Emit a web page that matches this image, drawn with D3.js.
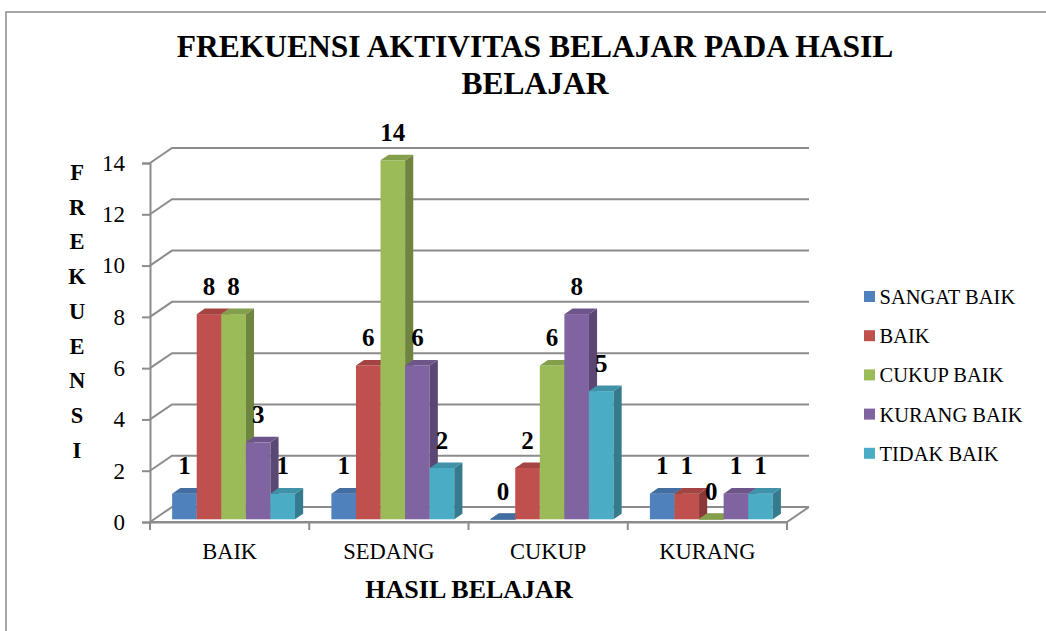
<!DOCTYPE html>
<html>
<head>
<meta charset="utf-8">
<script src="https://cdn.jsdelivr.net/npm/d3@7"></script>
<style>
  body { margin: 0; background: #fff; }
</style>
</head>
<body>
<svg width="1046" height="631"></svg>
<script>
// data
const categories = ["BAIK", "SEDANG", "CUKUP", "KURANG"];
const seriesNames = ["SANGAT BAIK", "BAIK", "CUKUP BAIK", "KURANG BAIK", "TIDAK BAIK"];
const sangatBaik = [1, 1, 0, 1];
const baik = [8, 6, 2, 1];
const cukupBaik = [8, 14, 6, 0];
const kurangBaik = [3, 6, 8, 1];
const tidakBaik = [1, 2, 5, 1];
const yTicks = [0, 2, 4, 6, 8, 10, 12, 14];
const colors = ["#4F81BD", "#C0504D", "#9BBB59", "#8064A2", "#4BACC6"];

const FONT = "Liberation Serif, DejaVu Serif, serif";

const seriesValues = [sangatBaik, baik, cukupBaik, kurangBaik, tidakBaik];
const bars = [];
categories.forEach((c, ci) => {
    seriesNames.forEach((s, si) => {
        bars.push({cat: c, series: s, si: si, value: seriesValues[si][ci]});
    });
});

const svg = d3.select("svg");

// outer frame
svg.append("rect")
    .attr("x", 6).attr("y", 12)
    .attr("width", 1100).attr("height", 700)
    .attr("fill", "none")
    .attr("stroke", "#8a8a8a")
    .attr("stroke-width", 1.5);

// title
const title = svg.append("text")
    .attr("text-anchor", "middle")
    .attr("font-family", FONT)
    .attr("font-size", "31.5px")
    .attr("font-weight", "bold");
title.append("tspan").attr("x", 535).attr("y", 57).text("FREKUENSI AKTIVITAS BELAJAR PADA HASIL");
title.append("tspan").attr("x", 535).attr("y", 94).text("BELAJAR");

// scales
const plotLeft = 150, plotRight = 787;
const x0 = d3.scaleBand()
    .domain(categories)
    .range([plotLeft, plotRight]);

const x1 = d3.scaleBand()
    .domain(seriesNames)
    .range([0, x0.bandwidth()])
    .paddingOuter(0.74);

const y = d3.scaleLinear()
    .domain([0, 14])
    .range([522, 163]);

// oblique depth
const DX = 22, DY = 15;
const P = (x, v, z) => [x + z * DX, y(v) - z * DY];
const zFront = 0.18, zBack = 0.55;

const grid = svg.append("g");

// back wall + side wall gridlines
yTicks.forEach(t => {
    const pts = [P(plotLeft, t, 0), P(plotLeft, t, 1), P(plotRight, t, 1)];
    grid.append("polyline")
        .attr("points", pts.map(p => p.join(",")).join(" "))
        .attr("fill", "none")
        .attr("stroke", "#8c8c8c")
        .attr("stroke-width", 2);
});

// floor right edge
grid.append("polyline")
    .attr("points", [P(plotLeft, 0, 0), P(plotRight, 0, 0), P(plotRight, 0, 1)].map(p => p.join(",")).join(" "))
    .attr("fill", "none")
    .attr("stroke", "#8c8c8c")
    .attr("stroke-width", 2);

// Y axis
const yAxisCall = d3.axisLeft(y).tickValues(yTicks).tickSize(8).tickPadding(17);
const yAxisG = svg.append("g")
    .attr("transform", `translate(${plotLeft}, 0)`)
    .call(yAxisCall)
    .attr("font-family", FONT)
    .attr("font-size", "23px");
yAxisG.select(".domain").attr("stroke", "#8c8c8c").attr("stroke-width", 2);
yAxisG.selectAll(".tick line").attr("stroke", "#8c8c8c").attr("stroke-width", 2);
yAxisG.selectAll(".tick text").attr("fill", "#000");

// X axis
const xAxisCall = d3.axisBottom(x0).tickSize(0).tickPadding(21);
const xAxisG = svg.append("g")
    .attr("transform", `translate(0, ${y(0)})`)
    .call(xAxisCall)
    .attr("font-family", FONT)
    .attr("font-size", "22.5px");
xAxisG.select(".domain").attr("stroke", "#8c8c8c").attr("stroke-width", 2);
xAxisG.selectAll(".tick text").attr("fill", "#000");
// category boundary ticks
const bounds = categories.map(c => x0(c)).concat([plotRight]);
xAxisG.selectAll(".bound").data(bounds).enter().append("line")
    .attr("x1", d => d).attr("x2", d => d)
    .attr("y1", 0).attr("y2", 8)
    .attr("stroke", "#8c8c8c").attr("stroke-width", 2);

// bars
const gBars = svg.append("g").attr("font-family", FONT);
bars.forEach(d => {
    const xa = x0(d.cat) + x1(d.series);
    const xb = xa + x1.bandwidth();
    const c = d3.color(colors[d.si]);
    const top = c.darker(0.45).formatHex();
    const side = c.darker(0.95).formatHex();
    const poly = pts => pts.map(p => p.join(",")).join(" ");

    if (d.value > 0) {
        const f0 = P(xa, d.value, zFront);
        const f1 = P(xb, 0, zFront);
        gBars.append("rect")
            .attr("x", f0[0]).attr("y", f0[1])
            .attr("width", f1[0] - f0[0])
            .attr("height", f1[1] - f0[1])
            .attr("fill", colors[d.si]);
        gBars.append("polygon")
            .attr("points", poly([P(xb, 0, zFront), P(xb, d.value, zFront), P(xb, d.value, zBack), P(xb, 0, zBack)]))
            .attr("fill", side);
    }
    gBars.append("polygon")
        .attr("points", poly([P(xa, d.value, zFront), P(xb, d.value, zFront), P(xb, d.value, zBack), P(xa, d.value, zBack)]))
        .attr("fill", top)
        .attr("stroke", d.value > 0 ? "none" : top)
        .attr("stroke-width", 1);

    // data label
    gBars.append("text")
        .attr("x", (P(xa, 0, zFront)[0] + P(xb, 0, zFront)[0]) / 2)
        .attr("y", P(xa, d.value, zFront)[1] - 19.5)
        .attr("text-anchor", "middle")
        .attr("font-size", "25px")
        .attr("font-weight", "bold")
        .text(d.value);
});

// Y label (stacked letters)
const yLabel = "FREKUENSI".split("");
svg.append("g").attr("font-family", FONT).selectAll("text").data(yLabel).enter().append("text")
    .attr("x", 77)
    .attr("y", (d, i) => 180 + i * 34.7)
    .attr("text-anchor", "middle")
    .attr("font-size", "22.5px")
    .attr("font-weight", "bold")
    .text(d => d);

// X label
svg.append("text")
    .attr("x", 469)
    .attr("y", 598)
    .attr("text-anchor", "middle")
    .attr("font-family", FONT)
    .attr("font-size", "26px")
    .attr("font-weight", "bold")
    .text("HASIL BELAJAR");

// legend
const legend = svg.append("g").attr("transform", "translate(864, 291)").attr("font-family", FONT);
const items = legend.selectAll("g").data(seriesNames).enter().append("g")
    .attr("transform", (d, i) => `translate(0, ${i * 39.2})`);
items.append("rect")
    .attr("width", 11).attr("height", 11)
    .attr("fill", (d, i) => colors[i]);
items.append("text")
    .attr("x", 15.5)
    .attr("y", 13)
    .attr("font-size", "20.5px")
    .text(d => d);
</script>
</body>
</html>
